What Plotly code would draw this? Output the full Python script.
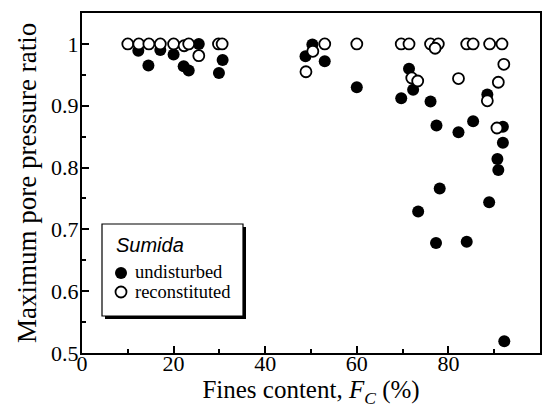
import plotly.graph_objects as go

# Fines content (%) and maximum pore pressure ratio
fc_undisturbed = [12.3, 14.5, 17.1, 20.0, 22.2, 23.3, 25.5, 29.9, 30.7, 48.8, 50.3, 53.0,
                  60.0, 69.7, 71.4, 72.3, 73.4, 76.1, 77.4, 77.3, 78.1, 82.2, 84.0, 85.4,
                  88.9, 88.5, 91.9, 91.9, 90.7, 90.9, 92.2]
ru_undisturbed = [0.989, 0.965, 0.990, 0.983, 0.964, 0.957, 1.0, 0.953, 0.974, 0.980, 0.999, 0.972,
                  0.930, 0.912, 0.960, 0.926, 0.729, 0.907, 0.868, 0.678, 0.766, 0.857, 0.680, 0.875,
                  0.744, 0.918, 0.866, 0.840, 0.814, 0.796, 0.519]

fc_reconstituted = [10.0, 12.4, 14.6, 17.1, 20.0, 22.3, 23.3, 25.5, 29.8, 30.6, 48.9, 50.4,
                    53.0, 60.0, 69.7, 71.4, 72.0, 73.3, 76.1, 77.8, 77.1, 82.2, 84.0, 85.4,
                    89.0, 88.5, 90.9, 90.6, 91.7, 92.1]
ru_reconstituted = [1.0, 1.0, 1.0, 1.0, 1.0, 0.997, 1.0, 0.981, 1.0, 1.0, 0.955, 0.988,
                    1.0, 1.0, 1.0, 1.0, 0.945, 0.940, 1.0, 1.0, 0.993, 0.944, 1.0, 1.0,
                    1.0, 0.908, 0.938, 0.864, 1.0, 0.967]

x_ticks = [0, 20, 40, 60, 80, 100]
y_ticks = [0.5, 0.6, 0.7, 0.8, 0.9, 1.0]
y_tick_labels = ["0.5", "0.6", "0.7", "0.8", "0.9", "1"]

x_title = "Fines content, <i>F</i><sub><i>C</i></sub> (%)"
y_title = "Maximum pore pressure ratio"
legend_title = "Sumida"
series_names = ["undisturbed", "reconstituted"]

serif = "Liberation Serif"
sans = "Liberation Sans"

fig = go.Figure()
fig.add_trace(go.Scatter(
    x=fc_undisturbed, y=ru_undisturbed, mode="markers", name=series_names[0],
    marker=dict(symbol="circle", size=12, color="black", line=dict(width=0)),
))
fig.add_trace(go.Scatter(
    x=fc_reconstituted, y=ru_reconstituted, mode="markers", name=series_names[1],
    marker=dict(symbol="circle", size=11, color="white", line=dict(width=1.8, color="black")),
))

axis_common = dict(
    showline=True, linecolor="black", linewidth=2, mirror=True,
    ticks="inside", tickcolor="black", tickwidth=1.5, ticklen=7,
    showgrid=False, zeroline=False, automargin=False,
    tickfont=dict(family=serif, size=22, color="black"),
)

fig.update_xaxes(
    range=[0, 100], tickvals=x_ticks, ticklabelstandoff=-10,
    minor=dict(dtick=10, ticks="inside", ticklen=4, tickcolor="black", tickwidth=1.5),
    title=dict(text=x_title, font=dict(family=serif, size=25, color="black"), standoff=0),
    **axis_common,
)
fig.update_yaxes(
    range=[0.5, 1.05], tickvals=y_ticks, ticktext=y_tick_labels, ticklabelstandoff=-3,
    minor=dict(tick0=0.55, dtick=0.1, ticks="inside", ticklen=4, tickcolor="black", tickwidth=1.5),
    **axis_common,
)

# Hand-drawn legend box (with drop shadow) in the lower-left corner
PW, PH = 458.0, 340.0  # plot area size in px
X0, Y0 = 82, 353       # plot area left / bottom in the page


def px_x(px):
    return (px - X0) / PW


def px_y(py):
    return (Y0 - py) / PH


shapes = [
    dict(type="rect", xref="paper", yref="paper", layer="above",
         x0=px_x(105), x1=px_x(246), y0=px_y(319), y1=px_y(227),
         fillcolor="black", line=dict(width=0)),
    dict(type="rect", xref="paper", yref="paper", layer="above",
         x0=px_x(102), x1=px_x(243), y0=px_y(316), y1=px_y(224),
         fillcolor="white", line=dict(width=1.2, color="black")),
    dict(type="circle", xref="paper", yref="paper", layer="above",
         xsizemode="pixel", ysizemode="pixel", xanchor=px_x(121), yanchor=px_y(273),
         x0=-6, x1=6, y0=-6, y1=6, fillcolor="black", line=dict(width=0)),
    dict(type="circle", xref="paper", yref="paper", layer="above",
         xsizemode="pixel", ysizemode="pixel", xanchor=px_x(121), yanchor=px_y(292),
         x0=-5.5, x1=5.5, y0=-5.5, y1=5.5, fillcolor="white", line=dict(width=1.8, color="black")),
]

annotations = [
    dict(text=y_title, xref="paper", yref="paper", textangle=-90,
         x=px_x(27), y=0.5, xanchor="center", yanchor="middle", showarrow=False,
         borderpad=0, font=dict(family=serif, size=27, color="black")),
    dict(text="<i>" + legend_title + "</i>", xref="paper", yref="paper",
         x=px_x(115), y=px_y(245), xanchor="left", yanchor="middle", showarrow=False,
         borderpad=0, font=dict(family=sans, size=20, color="black")),
    dict(text=series_names[0], xref="paper", yref="paper",
         x=px_x(134), y=px_y(272), xanchor="left", yanchor="middle", showarrow=False,
         borderpad=0, font=dict(family=serif, size=18.5, color="black")),
    dict(text=series_names[1], xref="paper", yref="paper",
         x=px_x(134), y=px_y(292), xanchor="left", yanchor="middle", showarrow=False,
         borderpad=0, font=dict(family=serif, size=18.5, color="black")),
]

# The page adds an 8 px body margin, so the figure is shifted by 8 px right/down.
fig.update_layout(
    width=548, height=400,
    margin=dict(l=X0 - 8, r=548 - (X0 - 8) - int(PW), t=13 - 8, b=400 - (13 - 8) - int(PH)),
    plot_bgcolor="white", paper_bgcolor="white",
    showlegend=False,
    shapes=shapes, annotations=annotations,
)

fig.write_html("out.html")
